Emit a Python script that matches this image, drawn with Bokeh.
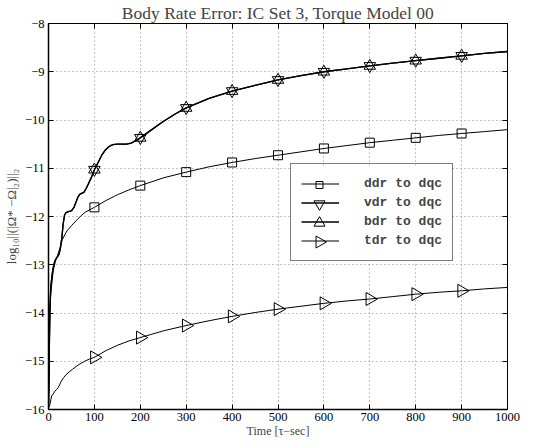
import numpy as np
from bokeh.plotting import figure
from bokeh.models import Range1d, FixedTicker, LinearAxis, Legend, LegendItem
from bokeh.embed import file_html
from bokeh.resources import INLINE

# ---- data ----
ddr_x = [0, 1, 2, 3, 5, 7, 10, 12, 15, 20, 25, 30, 40, 50, 60, 70, 80, 90, 100, 125, 150,
         175, 200, 250, 300, 350, 400, 450, 500, 550, 600, 650, 700, 750, 800, 850, 900, 950, 1000]
ddr_y = [-15.95, -15.5, -14.66, -13.97, -13.6, -13.41, -13.15, -13.05, -12.93, -12.8, -12.65,
         -12.48, -12.3, -12.19, -12.09, -11.99, -11.91, -11.86, -11.81, -11.67, -11.55, -11.45,
         -11.36, -11.2, -11.08, -10.97, -10.88, -10.8, -10.73, -10.66, -10.59, -10.53, -10.47,
         -10.42, -10.37, -10.32, -10.28, -10.24, -10.2]

vdr_x = [0, 1, 2, 3, 5, 8, 10, 13, 16, 20, 23, 26, 29, 32, 35, 38, 43, 48, 52, 56, 60, 64, 68,
         72, 77, 82, 87, 93, 100, 108, 116, 124, 132, 140, 150, 160, 170, 180, 190, 200, 225,
         250, 275, 300, 350, 400, 450, 500, 550, 600, 650, 700, 750, 800, 850, 900, 950, 1000]
vdr_y = [-15.9, -15.4, -14.6, -13.95, -13.45, -13.2, -13.07, -12.95, -12.88, -12.83, -12.78,
         -12.65, -12.45, -12.15, -11.97, -11.92, -11.9, -11.89, -11.86, -11.8, -11.7, -11.6,
         -11.54, -11.52, -11.5, -11.42, -11.32, -11.2, -11.03, -10.88, -10.73, -10.62, -10.55,
         -10.51, -10.5, -10.5, -10.5, -10.48, -10.43, -10.37, -10.2, -10.03, -9.88, -9.75,
         -9.55, -9.40, -9.28, -9.17, -9.08, -9.0, -8.94, -8.88, -8.82, -8.77, -8.72, -8.67,
         -8.62, -8.58]

bdr_x = vdr_x
bdr_y = vdr_y

tdr_x = [0, 1, 2, 3, 5, 7, 10, 14, 18, 21, 25, 28, 33, 38, 45, 52, 60, 66, 79, 90, 100, 125,
         150, 175, 200, 250, 300, 350, 400, 450, 500, 550, 600, 650, 700, 750, 800, 850, 900,
         950, 1000]
tdr_y = [-16.0, -15.95, -15.93, -15.9, -15.8, -15.72, -15.68, -15.62, -15.58, -15.55, -15.47,
         -15.41, -15.34, -15.28, -15.22, -15.17, -15.11, -15.07, -15.0, -14.95, -14.92, -14.78,
         -14.67, -14.58, -14.51, -14.37, -14.26, -14.16, -14.07, -13.99, -13.92, -13.86, -13.8,
         -13.75, -13.71, -13.66, -13.61, -13.57, -13.54, -13.5, -13.47]

marker_x = [100, 200, 300, 400, 500, 600, 700, 800, 900]

x_ticks = [0, 100, 200, 300, 400, 500, 600, 700, 800, 900, 1000]
y_ticks = [-16, -15, -14, -13, -12, -11, -10, -9, -8]
y_tick_labels = {t: "\u2212" + str(abs(t)) for t in y_ticks}

labels = ["ddr to dqc", "vdr to dqc", "bdr to dqc", "tdr to dqc"]

SERIF = "Liberation Serif"
FW, FH = 459, 386
X0, X1, Y0, Y1 = 0, 1000, -16, -8

p = figure(frame_width=FW, frame_height=FH, x_range=Range1d(X0, X1), y_range=Range1d(Y0, Y1),
           output_backend="svg", toolbar_location=None,
           min_border_left=44, min_border_right=29, min_border_bottom=20, min_border_top=17)

p.title.text = "Body Rate Error: IC Set 3, Torque Model 00"
p.title.text_font = SERIF
p.title.text_font_style = "normal"
p.title.text_font_size = "17.5px"
p.title.align = "center"
p.title.standoff = 1
p.title.offset = 0

p.outline_line_color = "black"
p.outline_line_width = 1
p.background_fill_color = "white"
p.border_fill_color = "white"

for ax in (p.xaxis[0], p.yaxis[0]):
    ax.major_tick_in = 5
    ax.major_tick_out = 0
    ax.minor_tick_line_color = None
    ax.major_label_text_font = SERIF
    ax.major_label_text_font_size = "12.5px"
    ax.major_label_text_color = "black"
    ax.axis_label_text_font = SERIF
    ax.axis_label_text_font_style = "normal"
    ax.axis_label_text_font_size = "12px"
    ax.axis_line_color = "black"
    ax.axis_line_width = 1.5
    ax.major_tick_line_color = "black"

p.xaxis.ticker = FixedTicker(ticks=x_ticks)
p.yaxis.ticker = FixedTicker(ticks=y_ticks)
p.yaxis.major_label_overrides = y_tick_labels
p.xaxis.major_label_standoff = 3
p.yaxis.major_label_standoff = 4
p.xaxis.axis_label = "Time [\u03c4\u2212sec]"
p.xaxis.axis_label_standoff = 0
p.yaxis.axis_label = "log\u2081\u2080||(|\u03a9* \u2212\u03a9|\u2082)||\u2082"
p.yaxis.axis_label_text_font_size = "13px"
p.yaxis.axis_label_standoff = 3

# ticks on top and right (no labels)
for loc in ("above", "right"):
    tk = x_ticks if loc == "above" else y_ticks
    ax = LinearAxis(ticker=FixedTicker(ticks=tk),
                    major_tick_in=5, major_tick_out=0, minor_tick_line_color=None,
                    major_label_overrides={t: "" for t in tk}, major_label_standoff=0,
                    axis_line_color="black", major_tick_line_color="black")
    p.add_layout(ax, loc)

p.xgrid.ticker = FixedTicker(ticks=x_ticks)
p.ygrid.ticker = FixedTicker(ticks=y_ticks)
for g in (p.xgrid[0], p.ygrid[0]):
    g.grid_line_color = "#8a8a8a"
    g.grid_line_dash = "1 3"
    g.grid_line_width = 1


def pick(xs, ys):
    mx, my = [], []
    for xv, yv in zip(xs, ys):
        if xv in marker_x:
            mx.append(xv)
            my.append(yv)
    return mx, my


def to_dx(sx):
    return X0 + sx / FW * (X1 - X0)


def to_dy(sy):
    return Y0 + sy / FH * (Y1 - Y0)

series = [
    (ddr_x, ddr_y, "square", 9, 0.0, 1.0),
    (vdr_x, vdr_y, "inverted_triangle", 11.5, 0.0, 1.3),
    (bdr_x, bdr_y, "triangle", 11.5, 0.0, 1.3),
    (tdr_x, tdr_y, "triangle", 13, -np.pi / 2, 1.0),
]

# legend box geometry, px from the frame's bottom-left corner
LEG_X, LEG_Y = 242, 148
PAD, GW, GH, STANDOFF, LABEL_W = 10, 38, 19, 25, 78
leg_w = 2 * PAD + GW + STANDOFF + LABEL_W
leg_h = 2 * PAD + 4 * GH
sym_sx = LEG_X + PAD + GW / 2
sym_sy = [LEG_Y + leg_h - PAD - GH * i - GH / 2 for i in range(4)]
# legend symbol sizes: Bokeh scales legend markers to the row height and never
# rotates them, so the symbols are drawn as glyphs inside a see-through legend box
leg_sizes = [7, 11, 11, 12]

# white backing for the legend box (covers the grid behind it)
p.quad(left=[to_dx(LEG_X)], right=[to_dx(LEG_X + leg_w)],
       bottom=[to_dy(LEG_Y)], top=[to_dy(LEG_Y + leg_h)],
       fill_color="white", line_color=None)

items = []
for k, ((xs, ys, mk, sz, ang, lw), lab) in enumerate(zip(series, labels)):
    ln = p.line(xs, ys, line_color="black", line_width=lw)
    mx, my = pick(xs, ys)
    p.scatter(mx, my, marker=mk, size=sz, angle=ang, fill_color=None,
              line_color="black", line_width=1)
    items.append(LegendItem(label=lab, renderers=[ln]))
    p.scatter([to_dx(sym_sx)], [to_dy(sym_sy[k])], marker=mk, size=leg_sizes[k], angle=ang,
              fill_color=None, line_color="black", line_width=1)

legend = Legend(items=items, location=(LEG_X, LEG_Y))
legend.label_text_font = "Liberation Mono"
legend.label_text_font_style = "bold"
legend.label_text_font_size = "13px"
legend.glyph_width = GW
legend.glyph_height = GH
legend.label_height = GH
legend.spacing = 0
legend.padding = PAD
legend.margin = 0
legend.label_standoff = STANDOFF
legend.border_line_color = "black"
legend.border_line_width = 1.5
legend.background_fill_alpha = 0
p.add_layout(legend, "center")

open("out.html", "w").write(file_html(p, INLINE))
